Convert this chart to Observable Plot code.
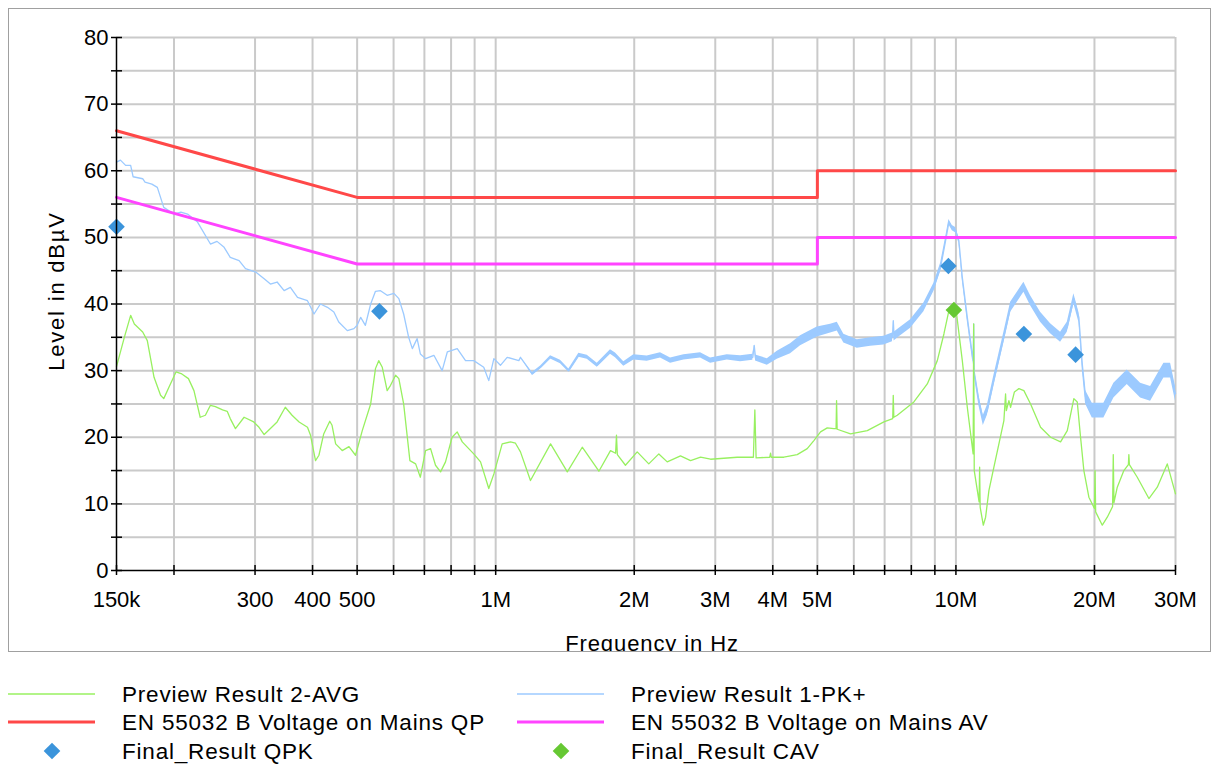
<!DOCTYPE html>
<html>
<head>
<meta charset="utf-8">
<script src="https://cdn.jsdelivr.net/npm/d3@7"></script>
<script src="https://cdn.jsdelivr.net/npm/@observablehq/plot@0.6"></script>
<style>
  html, body { margin: 0; padding: 0; background: #fff; }
  body { width: 1216px; height: 765px; position: relative; overflow: hidden;
         font-family: "Liberation Sans", Arial, sans-serif; color: #000; }
  #frame { position: absolute; left: 8px; top: 8px; width: 1201px; height: 642px;
           border: 1px solid #a0a0a0; overflow: hidden; background: #fff; }
  #frame svg { position: absolute; left: 0; top: 0; }
  .ytitle { position: absolute; left: 57px; top: 291px; white-space: nowrap;
            font-size: 22px; letter-spacing: 1.8px; line-height: 1;
            transform: translate(-50%, -50%) rotate(-90deg); }
  .xtitle { position: absolute; left: 643px; top: 635px; white-space: nowrap;
            font-size: 22px; letter-spacing: 0.9px; line-height: 1;
            transform: translate(-50%, -50%); }
  #legend { position: absolute; left: 0; top: 660px; }
</style>
</head>
<body>
<div id="frame"></div>
<div id="legend"></div>
<script>
// Frequencies in MHz, levels in dBµV.

// EN 55032 class B conducted limits (mains port)
const limitQP = [[0.15, 66], [0.5, 56], [5, 56], [5, 60], [30, 60]];
const limitAV = [[0.15, 56], [0.5, 46], [5, 46], [5, 50], [30, 50]];

// Preview scan, peak detector: [frequency, level, band width of the noise]
const previewPK = [
  [0.150,61.3,0],[0.153,61.6,0],[0.157,60.8,0],[0.161,60.8,0],[0.163,59.1,0],[0.171,58.8,0],
  [0.173,58.3,0],[0.179,58.0,0],[0.184,57.5,0],[0.190,54.5,0],[0.200,53.5,0],[0.207,53.8,0],
  [0.214,53.5,0],[0.225,52.3,0],[0.240,49.0,0],[0.248,49.4,0],[0.257,48.5,0],[0.265,47.0,0],
  [0.277,46.5,0],[0.286,45.3,0],[0.301,44.8,0],[0.314,43.8,0],[0.324,43.0,0],[0.335,43.3,0],
  [0.347,42.0,0],[0.358,42.5,0],[0.371,41.0,0],[0.390,40.5,0],[0.403,38.5,0],[0.416,40.0,0],
  [0.431,39.5,0],[0.445,38.8,0],[0.456,37.3,0],[0.476,36.0,0],[0.492,36.3,0],[0.500,36.8,0],
  [0.509,38.0,0],[0.521,36.8,0],[0.535,40.0,0],[0.548,41.9,0],[0.562,42.0,0],[0.581,41.3,0],
  [0.601,41.6,0],[0.616,40.8,0],[0.631,38.5,0],[0.647,35.0,0],[0.659,33.3,0],[0.675,34.8,0],
  [0.686,32.5,0],[0.704,31.8,0],[0.734,32.3,0],[0.765,30.0,0],[0.785,32.8,0],[0.825,33.3,0],
  [0.860,31.5,0],[0.896,31.5,0],[0.942,30.5,0],[0.966,28.5,0],[0.991,31.8,0],[1.024,30.8,0],
  [1.059,32.0,0],[1.123,31.5,0],[1.132,32.0,0],[1.201,29.5,0.4],[1.252,30.5,0.4],[1.316,32.0,0.5],
  [1.383,31.3,0.5],[1.442,30.0,0.5],[1.516,32.3,0.6],[1.581,32.0,0.6],[1.662,30.8,0.6],
  [1.776,32.8,0.7],[1.821,32.3,0.7],[1.898,31.0,0.7],[1.996,32.0,0.8],[2.134,31.8,0.8],
  [2.281,32.3,0.8],[2.398,31.5,0.8],[2.564,32.0,0.8],[2.787,32.3,0.8],[2.930,31.5,0.8],
  [3.185,32.0,0.8],[3.404,31.8,0.9],[3.620,32.0,0.9],[3.645,33.8,0],[3.670,31.9,0.9],
  [3.891,31.3,1.0],[4.091,32.3,1.2],[4.372,33.3,1.5],[4.596,34.5,1.5],[4.997,35.8,1.5],
  [5.341,36.3,1.3],[5.523,36.6,1.3],[5.708,34.8,1.3],[6.104,34.0,1.3],[6.525,34.3,1.3],
  [6.974,34.5,1.3],[7.280,35.0,1.3],[7.310,37.5,0],[7.340,35.1,1.3],[7.457,35.5,1.3],
  [7.971,37.0,1.3],[8.519,39.5,1.3],[8.957,42.5,1.2],[9.262,45.5,1.2],[9.497,49.5,1.0],
  [9.655,52.3,0.8],[9.820,51.4,0.8],[9.984,51.1,0.8],[10.150,49.5,0.8],[10.325,44.0,1.0],
  [10.586,38.0,1.2],[10.900,31.5,1.2],[10.930,37.0,0],[10.960,29.8,1.2],[11.218,25.5,1.5],
  [11.468,22.5,1.5],[11.700,24.0,1.5],[12.093,28.5,1.5],[12.713,35.0,1.5],[13.147,39.5,1.5],
  [13.595,41.0,1.5],[14.051,42.5,1.5],[14.528,40.5,1.5],[15.273,38.0,1.5],[16.058,36.3,1.5],
  [16.881,35.0,1.5],[17.457,36.5,1.5],[18.042,40.8,1.5],[18.500,38.0,1.5],[18.818,31.0,1.8],
  [19.131,26.0,2.0],[19.783,24.0,2.2],[20.964,24.0,2.2],[22.039,27.0,2.2],[23.567,29.0,2.2],
  [25.193,27.0,2.2],[26.485,26.5,2.2],[28.305,30.0,2.2],[29.270,30.0,2.2],[30.000,26.5,2.2]
];

// Preview scan, average detector: [frequency, level]
const previewAVG = [
  [0.150,30.6],[0.156,35.0],[0.161,38.3],[0.164,37.0],[0.171,35.8],[0.175,34.5],[0.181,29.0],
  [0.187,26.3],[0.190,25.8],[0.195,27.5],[0.202,29.8],[0.208,29.5],[0.215,28.8],[0.221,27.0],
  [0.228,23.0],[0.234,23.3],[0.240,24.8],[0.246,24.6],[0.255,24.1],[0.261,23.9],[0.265,22.8],
  [0.272,21.3],[0.284,23.0],[0.298,22.3],[0.306,21.5],[0.314,20.4],[0.324,21.3],[0.335,22.3],
  [0.349,24.5],[0.361,23.3],[0.374,22.3],[0.390,21.5],[0.396,20.3],[0.406,16.5],[0.413,17.3],
  [0.423,20.5],[0.436,22.4],[0.441,21.8],[0.449,19.0],[0.464,18.0],[0.480,18.6],[0.496,17.3],
  [0.513,21.0],[0.535,25.0],[0.548,30.3],[0.557,31.5],[0.567,30.5],[0.581,27.0],[0.591,27.8],
  [0.606,29.3],[0.616,28.8],[0.631,25.0],[0.651,16.5],[0.670,16.0],[0.686,14.0],[0.704,18.0],
  [0.722,18.3],[0.740,15.8],[0.759,14.8],[0.778,16.3],[0.804,20.0],[0.825,20.8],[0.846,19.3],
  [0.896,17.5],[0.927,16.3],[0.966,12.3],[0.991,14.5],[1.033,19.0],[1.077,19.3],[1.104,19.1],
  [1.132,17.8],[1.190,13.5],[1.316,19.0],[1.431,14.8],[1.542,18.5],[1.676,14.9],[1.776,18.0],
  [1.822,17.6],[1.830,20.3],[1.838,17.4],[1.914,15.8],[2.030,17.8],[2.151,16.0],[2.262,17.5],
  [2.359,16.3],[2.521,17.2],[2.651,16.5],[2.787,17.0],[2.930,16.7],[3.348,17.0],[3.630,17.0],
  [3.657,24.1],[3.680,16.9],[3.940,17.0],[3.956,17.6],[3.970,17.0],[4.228,17.0],[4.520,17.4],
  [4.753,18.3],[4.913,19.5],[5.080,20.8],[5.253,21.4],[5.430,21.3],[5.490,21.3],[5.504,25.5],
  [5.520,21.2],[5.903,20.5],[6.419,21.0],[6.974,22.3],[7.290,22.8],[7.309,26.3],[7.330,23.0],
  [7.457,23.3],[8.103,25.3],[8.666,28.0],[9.111,31.5],[9.417,35.5],[9.655,39.0],[9.870,39.8],
  [10.034,38.5],[10.325,31.5],[10.586,24.5],[10.900,17.5],[10.930,37.0],[10.960,15.0],
  [11.230,10.3],[11.260,15.5],[11.290,9.5],[11.468,6.8],[11.601,8.0],[11.794,12.0],[12.093,15.5],
  [12.400,19.0],[12.713,22.5],[12.820,26.5],[12.870,24.0],[13.036,25.5],[13.147,24.5],
  [13.400,26.8],[13.705,27.3],[14.051,27.0],[14.528,25.0],[15.273,21.5],[16.058,20.0],
  [16.881,19.3],[17.457,21.0],[18.042,25.8],[18.351,25.3],[18.657,20.0],[18.968,15.0],
  [19.449,11.0],[20.000,9.3],[20.060,15.0],[20.120,8.8],[20.798,6.8],[21.326,8.0],[21.900,9.6],
  [21.974,17.4],[22.050,10.2],[22.419,12.5],[23.170,15.0],[23.700,15.9],[23.757,17.4],
  [23.820,15.9],[24.779,14.0],[26.262,10.8],[27.389,12.5],[28.790,16.0],[30.000,11.5]
];

// Final measurements
const finalQPK = [[0.150, 51.6], [0.559, 38.9], [9.63, 45.7], [14.05, 35.5], [18.2, 32.4]];
const finalCAV = [[9.90, 39.1]];

// Axis ticks and labels
const xGrid = [0.2,0.3,0.4,0.5,0.6,0.7,0.8,0.9,1,2,3,4,5,6,7,8,9,10,20,30];
const xTicks = [0.15, ...xGrid];
const xTickLabels = new Map([[0.15,"150k"],[0.3,"300"],[0.4,"400"],[0.5,"500"],[0.8,"800"],
  [1,"1M"],[2,"2M"],[3,"3M"],[4,"4M"],[5,"5M"],[6,"6"],[8,"8"],[10,"10M"],[20,"20M"],[30,"30M"]]);
const yTicks = d3.range(0, 81, 5);
const yGrid = d3.range(5, 81, 5);

const colors = {
  avg: "#98f060", pk: "#9ccaff", qp: "#ff4848", av: "#ff44ff", qpk: "#3b94db", cav: "#66c833", grid: "#cacaca"
};
const diamondR = 7.5;

const pkRows = previewPK.map(([f, v, s]) => ({f, v, lo: v - s / 2, hi: v + s / 2}));

const chart = Plot.plot({
  width: 1201,
  height: 642,
  marginLeft: 107,
  marginRight: 35,
  marginTop: 28,
  marginBottom: 81,
  style: {fontFamily: "'Liberation Sans', Arial, sans-serif", fontSize: "22px", color: "#000", background: "#fff", overflow: "visible"},
  x: {type: "log", domain: [0.15, 30], label: null},
  y: {domain: [0, 80], label: null},
  marks: [
    Plot.gridX(xGrid, {stroke: colors.grid, strokeOpacity: 1, strokeWidth: 2}),
    Plot.gridY(yGrid, {stroke: colors.grid, strokeOpacity: 1, strokeWidth: 2}),
    Plot.areaY(pkRows, {x: "f", y1: "lo", y2: "hi", fill: colors.pk, curve: "linear"}),
    Plot.line(pkRows, {x: "f", y: "v", stroke: colors.pk, strokeWidth: 1.3}),
    Plot.line(previewAVG, {x: d => d[0], y: d => d[1], stroke: colors.avg, strokeWidth: 1.3}),
    Plot.line(limitQP, {x: d => d[0], y: d => d[1], stroke: colors.qp, strokeWidth: 3}),
    Plot.line(limitAV, {x: d => d[0], y: d => d[1], stroke: colors.av, strokeWidth: 3}),
    Plot.dot(finalQPK, {x: d => d[0], y: d => d[1], symbol: "diamond2", r: diamondR, fill: colors.qpk, stroke: "none"}),
    Plot.dot(finalCAV, {x: d => d[0], y: d => d[1], symbol: "diamond2", r: diamondR, fill: colors.cav, stroke: "none"}),
    Plot.ruleX([0.15], {stroke: "#000", strokeWidth: 1.5}),
    Plot.ruleY([0], {stroke: "#000", strokeWidth: 1.5}),
    Plot.axisY({ticks: yTicks, tickSize: 5, tickPadding: 3, tickFormat: d => d % 10 === 0 ? String(d) : "", label: null, fontSize: 22, strokeWidth: 1.5}),
    Plot.axisY({ticks: yTicks, tickSize: -6, tickFormat: () => "", label: null, strokeWidth: 1.5}),
    Plot.axisX({ticks: xTicks, tickSize: 5, tickPadding: 16, tickFormat: d => xTickLabels.get(d) ?? "", label: null, fontSize: 22, strokeWidth: 1.5}),
    Plot.axisX({ticks: xTicks, tickSize: -5, tickFormat: () => "", label: null, strokeWidth: 1.5})
  ]
});

const frame = document.getElementById("frame");
frame.appendChild(chart);

const xTitle = document.createElement("div");
xTitle.className = "xtitle";
xTitle.textContent = "Frequency in Hz";
frame.appendChild(xTitle);

const yTitle = document.createElement("div");
yTitle.className = "ytitle";
yTitle.textContent = "Level in dBµV";
document.body.appendChild(yTitle);

// Legend: two columns, three rows
const legendItems = [
  {label: "Preview Result 2-AVG", kind: "line", color: colors.avg, width: 1.3},
  {label: "Preview Result 1-PK+", kind: "line", color: colors.pk, width: 1.3},
  {label: "EN 55032 B Voltage on Mains QP", kind: "line", color: colors.qp, width: 3},
  {label: "EN 55032 B Voltage on Mains AV", kind: "line", color: colors.av, width: 3},
  {label: "Final_Result QPK", kind: "diamond", color: colors.qpk},
  {label: "Final_Result CAV", kind: "diamond", color: colors.cav}
];
const legend = d3.select("#legend").append("svg").attr("width", 1216).attr("height", 105)
  .style("font-family", "'Liberation Sans', Arial, sans-serif").style("font-size", "22.5px");
const colX = [8, 517], rowY = [34, 62, 91];
legendItems.forEach((item, i) => {
  const x0 = colX[i % 2], y0 = rowY[Math.floor(i / 2)];
  const g = legend.append("g");
  if (item.kind === "line") {
    g.append("line").attr("x1", x0).attr("x2", x0 + 87).attr("y1", y0).attr("y2", y0)
      .attr("stroke", item.color).attr("stroke-width", item.width);
  } else {
    g.append("path").attr("d", d3.symbol(d3.symbolDiamond2, Math.PI * diamondR * diamondR)())
      .attr("transform", `translate(${x0 + 44},${y0})`).attr("fill", item.color);
  }
  g.append("text").attr("x", x0 + 114).attr("y", y0 + 8).attr("letter-spacing", "0.8px")
    .text(item.label);
});
</script>
</body>
</html>
